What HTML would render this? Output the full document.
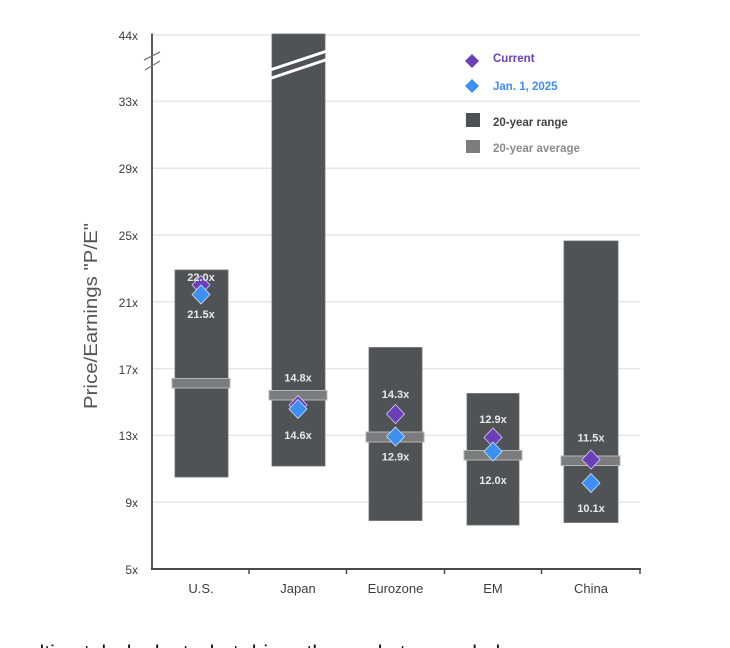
<!DOCTYPE html>
<html>
<head>
<meta charset="utf-8">
<style>
  html,body{margin:0;padding:0;background:#fff;width:730px;height:648px;overflow:hidden;}
  body{position:relative;}
  svg{position:absolute;left:0;top:0;}
  .tick{font-family:"Liberation Sans",sans-serif;font-size:12px;fill:#3c3c3c;}
  .cat{font-family:"Liberation Sans",sans-serif;font-size:13px;fill:#3c3c3c;}
  .lbl{font-family:"Liberation Sans",sans-serif;font-size:11px;font-weight:bold;fill:#e8e8e8;}
  .leg{font-family:"Liberation Sans",sans-serif;font-size:11.5px;font-weight:bold;}
  .bwrap{position:absolute;left:0;top:640px;width:730px;height:8px;overflow:hidden;}
  .bottom{position:absolute;left:28px;top:3px;font-family:"Liberation Sans",sans-serif;font-size:21px;line-height:21px;color:#111;white-space:nowrap;}
</style>
</head>
<body>
<svg width="730" height="648" viewBox="0 0 730 648" xmlns="http://www.w3.org/2000/svg">
  <!-- gridlines -->
  <g stroke="#e6e6e6" stroke-width="1.5">
    <line x1="152" y1="35" x2="640" y2="35"/>
    <line x1="152" y1="101.4" x2="640" y2="101.4"/>
    <line x1="152" y1="168.2" x2="640" y2="168.2"/>
    <line x1="152" y1="235" x2="640" y2="235"/>
    <line x1="152" y1="301.8" x2="640" y2="301.8"/>
    <line x1="152" y1="368.6" x2="640" y2="368.6"/>
    <line x1="152" y1="435.4" x2="640" y2="435.4"/>
    <line x1="152" y1="502.2" x2="640" y2="502.2"/>
  </g>

  <!-- y tick labels -->
  <g class="tick" text-anchor="end">
    <text x="138" y="40">44x</text>
    <text x="138" y="106">33x</text>
    <text x="138" y="173">29x</text>
    <text x="138" y="240">25x</text>
    <text x="138" y="307">21x</text>
    <text x="138" y="374">17x</text>
    <text x="138" y="440">13x</text>
    <text x="138" y="507">9x</text>
    <text x="138" y="574">5x</text>
  </g>

  <!-- y axis title -->
  <text transform="translate(97,316) rotate(-90)" text-anchor="middle" font-family="Liberation Sans, sans-serif" font-size="18" fill="#555" textLength="186" lengthAdjust="spacingAndGlyphs">Price/Earnings "P/E"</text>

  <!-- range bars -->
  <g fill="#505356" stroke="#6a6d70" stroke-width="0.8">
    <rect x="175" y="270" width="53" height="207"/>
    <rect x="272" y="34" width="53" height="432"/>
    <rect x="369" y="347.5" width="53" height="173"/>
    <rect x="467" y="393.5" width="52" height="131.5"/>
    <rect x="564" y="241" width="54" height="281.5"/>
  </g>

  <!-- Japan break -->
  <g stroke="#fff" stroke-width="3">
    <line x1="270" y1="70" x2="327" y2="51"/>
    <line x1="270" y1="78.5" x2="327" y2="59.5"/>
  </g>

  <!-- average bars -->
  <g fill="#7b7c7d" stroke="#b5b5b5" stroke-width="1">
    <rect x="172" y="378.5" width="58" height="9.5"/>
    <rect x="269" y="390.5" width="58" height="9.5"/>
    <rect x="366" y="432" width="58" height="10"/>
    <rect x="464" y="450.5" width="58" height="9.5"/>
    <rect x="561" y="456" width="59" height="9.5"/>
  </g>

  <!-- diamonds: purple (current) then blue (Jan 1) -->
  <g stroke="#d8d0ee" stroke-width="0.8">
    <path fill="#6a3fb8" d="M201 275.5 L210 285 L201 294.5 L192 285 Z"/>
    <path fill="#6a3fb8" d="M298 395.5 L307 405 L298 414.5 L289 405 Z"/>
    <path fill="#6a3fb8" d="M395.5 404.5 L404.5 414 L395.5 423.5 L386.5 414 Z"/>
    <path fill="#6a3fb8" d="M493 428 L502 437.5 L493 447 L484 437.5 Z"/>
    <path fill="#6a3fb8" d="M591 450 L600 459.5 L591 469 L582 459.5 Z"/>
  </g>
  <g stroke="#cfe2fb" stroke-width="0.8">
    <path fill="#3d8ff2" d="M201 285 L210 294.5 L201 304 L192 294.5 Z"/>
    <path fill="#3d8ff2" d="M298 399.5 L307 409 L298 418.5 L289 409 Z"/>
    <path fill="#3d8ff2" d="M395.5 427 L404.5 436.5 L395.5 446 L386.5 436.5 Z"/>
    <path fill="#3d8ff2" d="M493 442 L502 451.5 L493 461 L484 451.5 Z"/>
    <path fill="#3d8ff2" d="M591 473.5 L600 483 L591 492.5 L582 483 Z"/>
  </g>

  <!-- value labels -->
  <g class="lbl" text-anchor="middle">
    <text x="201" y="281">22.0x</text>
    <text x="201" y="318">21.5x</text>
    <text x="298" y="381.5">14.8x</text>
    <text x="298" y="439">14.6x</text>
    <text x="395.5" y="398">14.3x</text>
    <text x="395.5" y="460.5">12.9x</text>
    <text x="493" y="423">12.9x</text>
    <text x="493" y="484">12.0x</text>
    <text x="591" y="441.5">11.5x</text>
    <text x="591" y="512">10.1x</text>
  </g>

  <!-- axes -->
  <line x1="152" y1="33.5" x2="152" y2="570" stroke="#5a5a5a" stroke-width="2"/>
  <g stroke="#777" stroke-width="1.3">
    <line x1="144" y1="60" x2="160" y2="52"/>
    <line x1="145" y1="70" x2="160" y2="61"/>
  </g>
  <line x1="151" y1="569" x2="641" y2="569" stroke="#4a4a4a" stroke-width="2"/>
  <g stroke="#4a4a4a" stroke-width="1.5">
    <line x1="249" y1="569" x2="249" y2="574"/>
    <line x1="346.5" y1="569" x2="346.5" y2="574"/>
    <line x1="444.5" y1="569" x2="444.5" y2="574"/>
    <line x1="541.5" y1="569" x2="541.5" y2="574"/>
    <line x1="640" y1="569" x2="640" y2="574"/>
  </g>

  <!-- category labels -->
  <g class="cat" text-anchor="middle">
    <text x="201" y="593">U.S.</text>
    <text x="298" y="593">Japan</text>
    <text x="395.5" y="593">Eurozone</text>
    <text x="493" y="593">EM</text>
    <text x="591" y="593">China</text>
  </g>

  <!-- legend -->
  <path fill="#6a3fb8" d="M472 54 L479 61 L472 68 L465 61 Z"/>
  <text class="leg" x="493" y="62" fill="#6a3fb8">Current</text>
  <path fill="#3d8ff2" d="M472 79 L479 86 L472 93 L465 86 Z"/>
  <text class="leg" x="493" y="90" fill="#3d8ff2">Jan. 1, 2025</text>
  <rect x="466" y="113" width="14" height="14" fill="#4e5153"/>
  <text class="leg" x="493" y="126" fill="#444">20-year range</text>
  <rect x="466" y="140" width="14" height="13" fill="#7d7d7d"/>
  <text class="leg" x="493" y="152" fill="#8a8a8a" font-weight="normal">20-year average</text>
</svg>
<div class="bwrap"><div class="bottom">ultimately, look at what drives the market as a whole</div></div>
</body>
</html>
